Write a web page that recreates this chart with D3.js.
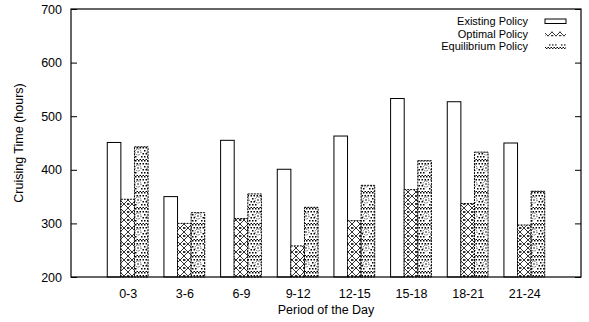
<!DOCTYPE html>
<html>
<head>
<meta charset="UTF-8">
<script src="https://d3js.org/d3.v7.min.js"></script>
<style>
  body { margin: 0; background: #fff; }
  text { font-family: "Liberation Sans", Arial, sans-serif; font-size: 12.5px; fill: #000; }
</style>
</head>
<body>
<svg id="chart" width="589" height="322"></svg>
<script>
const periods = ["0-3", "3-6", "6-9", "9-12", "12-15", "15-18", "18-21", "21-24"];
const existing = [451, 350, 455, 401, 463, 533, 527, 450];
const optimal = [345, 300, 309, 258, 305, 363, 337, 297];
const equilibrium = [443, 320, 355, 330, 371, 417, 433, 360];
const seriesNames = ["Existing Policy", "Optimal Policy", "Equilibrium Policy"];
const yTicks = [200, 300, 400, 500, 600, 700];

const svg = d3.select("#chart");
const margin = {left: 71, right: 8, top: 9, bottom: 45};
const W = 589, H = 322;

// patterns
const defs = svg.append("defs");
let p1 = defs.append("pattern").attr("id", "cross").attr("patternUnits", "userSpaceOnUse")
  .attr("width", 8).attr("height", 8);
p1.append("rect").attr("width", 8).attr("height", 8).attr("fill", "#fff");
p1.append("path").attr("d", "M0,0L8,8M8,0L0,8").attr("stroke", "#000").attr("stroke-width", 0.8);
p1.append("rect").attr("x", 0).attr("y", 3.2).attr("width", 1.4).attr("height", 1.6).attr("fill", "#000");
p1.append("rect").attr("x", 7).attr("y", 3.2).attr("width", 1.4).attr("height", 1.6).attr("fill", "#000");

let p2 = defs.append("pattern").attr("id", "dots").attr("patternUnits", "userSpaceOnUse")
  .attr("width", 12).attr("height", 16);
p2.append("rect").attr("width", 12).attr("height", 16).attr("fill", "#fff");
for (let i = 0; i < 12; i += 3) {
  for (let j = 0; j < 16; j += 3) {
    const cx = i + (j % 2 ? 1.5 : 0), cy = j;
    if (Math.hypot(cx - 6, cy - 8) > 4.5) {
      p2.append("rect").attr("x", cx).attr("y", cy).attr("width", 1.5).attr("height", 1.5).attr("fill", "#000");
    }
  }
}
p2.append("circle").attr("cx", 6).attr("cy", 8).attr("r", 3).attr("fill", "none")
  .attr("stroke", "#000").attr("stroke-width", 0.8).attr("stroke-dasharray", "1,1");
p2.append("circle").attr("cx", 6).attr("cy", 8).attr("r", 0.8).attr("fill", "#000");

const fills = ["#fff", "url(#cross)", "url(#dots)"];
const data = [existing, optimal, equilibrium];

const x = d3.scaleLinear().domain([-1, periods.length]).range([margin.left, W - margin.right]);
const y = d3.scaleLinear().domain([200, 700]).range([H - margin.bottom, margin.top]);
const bw = 0.24;

data.forEach((vals, s) => {
  svg.append("g").selectAll("rect").data(vals).join("rect")
    .attr("x", (d, i) => x(i + (s - 1) * bw - bw / 2))
    .attr("width", x(bw) - x(0))
    .attr("y", d => y(d))
    .attr("height", d => y(200) - y(d))
    .attr("fill", fills[s])
    .attr("stroke", "#000")
    .attr("stroke-width", 1)
    .attr("stroke-dasharray", s === 0 ? null : "2,1");
});

// frame
svg.append("rect").attr("x", margin.left).attr("y", margin.top)
  .attr("width", W - margin.left - margin.right).attr("height", H - margin.top - margin.bottom)
  .attr("fill", "none").attr("stroke", "#000").attr("stroke-width", 1.2);

// y axis left with mirrored right ticks
const yAxis = svg.append("g").attr("transform", `translate(${margin.left},0)`)
  .call(d3.axisLeft(y).tickValues(yTicks).tickSize(-6).tickPadding(9));
yAxis.select(".domain").remove();
svg.append("g").attr("transform", `translate(${W - margin.right},0)`)
  .call(d3.axisRight(y).tickValues(yTicks).tickSize(-6).tickFormat(""))
  .select(".domain").remove();

// x labels
const xAxis = svg.append("g").attr("transform", `translate(0,${H - margin.bottom})`)
  .call(d3.axisBottom(x).tickValues(d3.range(periods.length)).tickSize(0).tickPadding(12)
    .tickFormat(i => periods[i]));
xAxis.select(".domain").remove();
svg.selectAll(".tick text").style("font-family", "'Liberation Sans', Arial, sans-serif").style("font-size", "12.5px");

svg.append("text").attr("x", (margin.left + W - margin.right) / 2).attr("y", 314)
  .attr("text-anchor", "middle").text("Period of the Day");
svg.append("text").attr("transform", `translate(23,${(margin.top + H - margin.bottom) / 2}) rotate(-90)`)
  .attr("text-anchor", "middle").text("Cruising Time (hours)");

// legend
const lg = svg.append("g");
seriesNames.forEach((n, i) => {
  const base = 25 + i * 12.7;
  lg.append("text").attr("x", 528).attr("y", base).attr("text-anchor", "end")
    .style("font-size", "11px").text(n);
  lg.append("rect").attr("x", 545).attr("y", base - 6).attr("width", 21).attr("height", 4.5)
    .attr("fill", fills[i]).attr("stroke", i === 0 ? "#000" : "none");
});
</script>
</body>
</html>
